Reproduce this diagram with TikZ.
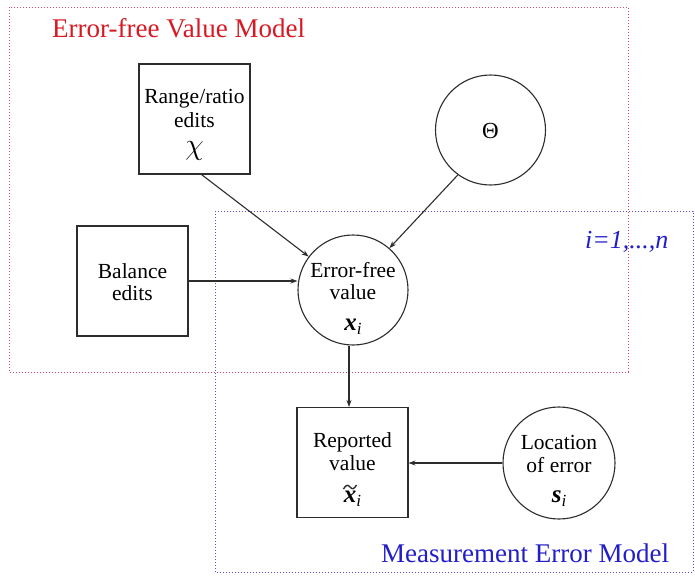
\documentclass[tikz,border=0pt]{standalone}
\usepackage{fontspec}
\setmainfont{Liberation Serif}
\usetikzlibrary{arrows.meta}
\definecolor{redtxt}{RGB}{215,25,35}
\definecolor{bluetxt}{RGB}{35,30,200}
\definecolor{reddot}{RGB}{215,70,100}
\definecolor{bluedot}{RGB}{90,80,210}
\definecolor{linegray}{RGB}{45,45,45}
\newcommand{\bx}{\textbf{\textit{x}}}
\newcommand{\subi}{\raisebox{-0.35ex}{\fontsize{17}{17}\selectfont\textit{i}}}
\tikzset{
  boxnode/.style={draw=linegray, line width=1.1pt, minimum width=111pt, minimum height=110pt, inner sep=0pt},
  circnode/.style={draw=linegray, line width=1.1pt, circle, minimum size=#1, inner sep=0pt},
  lbl/.style={anchor=base, inner sep=0pt, font=\rmfamily\fontsize{21.5}{23}\selectfont},
  arr/.style={draw=linegray, line width=1.1pt, -{Stealth[length=7pt,width=5pt]}},
  redbox/.style={draw=reddot, line width=1pt, dash pattern=on 1pt off 2pt},
  bluebox/.style={draw=bluedot, line width=1pt, dash pattern=on 1pt off 2pt}
}
\begin{document}
\begin{tikzpicture}[x=1pt,y=-1pt]
\useasboundingbox (0,0) rectangle (695,576);
\fill[white] (0,0) rectangle (695,576);
% model frames
\draw[redbox] (9,7) rectangle (628,372);
\draw[bluebox] (215,211) rectangle (693,572);
\node[text=redtxt, font=\rmfamily\fontsize{27}{27}\selectfont, anchor=base west, inner sep=0pt] (t1) at (52,37) {Error-free Value Model};
\node[text=bluetxt, font=\rmfamily\fontsize{27}{27}\selectfont, anchor=base west, inner sep=0pt] (t2) at (381,562) {Measurement Error Model};
\node[text=bluetxt, font=\rmfamily\fontsize{26}{26}\selectfont\itshape, anchor=base west, inner sep=0pt] (t3) at (585,248) {i=1,...,n};
% shapes
\node[boxnode] (range) at (194.5,119) {};
\node[boxnode] (bal) at (132.5,281) {};
\node[circnode=110pt] (theta) at (490.5,130) {};
\node[circnode=110pt] (ef) at (353,290) {};
\node[boxnode] (rep) at (352.5,462.5) {};
\node[circnode=112pt] (loc) at (559,463) {};
% labels
\node[lbl] (range1) at (194.5,103) {Range/ratio};
\node[lbl] (range2) at (194.5,127) {edits};
\node[lbl] (range3) at (194.5,154) {\scalebox{1.45}{$\chi$}};
\node[lbl] (bal1) at (132.5,278) {Balance};
\node[lbl] (bal2) at (132.5,300) {edits};
\node[lbl, font=\rmfamily\fontsize{23}{23}\selectfont] (theta1) at (490.5,138) {Θ};
\node[lbl] (ef1) at (353,277) {Error-free};
\node[lbl] (ef2) at (353,299) {value};
\node[lbl, font=\rmfamily\fontsize{25}{25}\selectfont] (ef3) at (353,330) {\bx\subi};
\node[lbl] (rep1) at (352.5,447) {Reported};
\node[lbl] (rep2) at (352.5,470) {value};
\node[lbl, font=\rmfamily\fontsize{25}{25}\selectfont] (rep3) at (352.5,502) {\bx\subi};
\draw[linegray, line width=1.4pt] (343.5,489) .. controls (346,484.5) and (348,484.5) .. (350,487) .. controls (352,489.5) and (354,489.5) .. (356.5,485);
\node[lbl] (loc1) at (559,449) {Location};
\node[lbl] (loc2) at (559,472) {of error};
\node[lbl, font=\rmfamily\fontsize{25}{25}\selectfont] (loc3) at (559,502) {\textbf{\textit{s}}\subi};
% arrows
\draw[arr] (range.south) ++(7,0) coordinate (rs) -- (ef.143);
\draw[arr] (theta.-126.5) -- (ef.49);
\draw[arr] (bal.east) -- (ef.west |- bal.east);
\draw[arr] (ef.south) ++(-4,0) coordinate (es) -- (es |- rep.north);
\draw[arr] (loc.west) -- (rep.east |- loc.west);
\end{tikzpicture}
\end{document}
